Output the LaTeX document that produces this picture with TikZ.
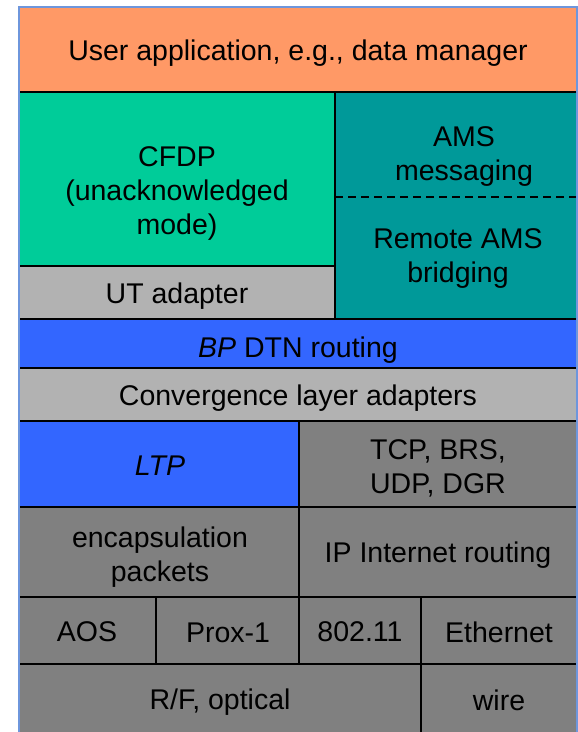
\documentclass[tikz,border=0pt]{standalone}
\usepackage{fontspec}
\setmainfont{Liberation Sans}
\definecolor{cOrange}{RGB}{255,153,102}
\definecolor{cGreen}{RGB}{0,204,153}
\definecolor{cTeal}{RGB}{0,153,153}
\definecolor{cLight}{RGB}{178,178,178}
\definecolor{cBlue}{RGB}{51,102,255}
\definecolor{cDark}{RGB}{128,128,128}
\definecolor{cFrame}{RGB}{110,150,220}
\begin{document}
\begin{tikzpicture}[x=1pt,y=-1pt,
  layer/.style={inner sep=0pt, outer sep=0pt, anchor=north west, draw=none},
  txt/.style={inner sep=0pt, align=center, text=black, font=\fontsize{28.5}{34}\selectfont},
  sep/.style={draw=black, line width=2.2pt},
  frame/.style={draw=cFrame, line width=1.3pt}]
\useasboundingbox (0,0) rectangle (578,732);
% layers
\node[layer, fill=cOrange, minimum width=558pt, minimum height=85pt] (app) at (19,7) {};
\node[layer, fill=cGreen, minimum width=316pt, minimum height=174pt] (cfdp) at (19,92) {};
\node[layer, fill=cLight, minimum width=316pt, minimum height=53pt] (ut) at (19,266) {};
\node[layer, fill=cTeal, minimum width=242pt, minimum height=227pt] (ams) at (335,92) {};
\node[layer, fill=cBlue, minimum width=558pt, minimum height=49pt] (bp) at (19,319) {};
\node[layer, fill=cLight, minimum width=558pt, minimum height=53pt] (cla) at (19,368) {};
\node[layer, fill=cBlue, minimum width=280pt, minimum height=86pt] (ltp) at (19,421) {};
\node[layer, fill=cDark, minimum width=278pt, minimum height=86pt] (tcp) at (299,421) {};
\node[layer, fill=cDark, minimum width=280pt, minimum height=90pt] (encap) at (19,507) {};
\node[layer, fill=cDark, minimum width=278pt, minimum height=90pt] (ip) at (299,507) {};
\node[layer, fill=cDark, minimum width=137pt, minimum height=67pt] (aos) at (19,597) {};
\node[layer, fill=cDark, minimum width=143pt, minimum height=67pt] (prox) at (156,597) {};
\node[layer, fill=cDark, minimum width=122pt, minimum height=67pt] (wlan) at (299,597) {};
\node[layer, fill=cDark, minimum width=156pt, minimum height=67pt] (eth) at (421,597) {};
\node[layer, fill=cDark, minimum width=402pt, minimum height=76pt] (rf) at (19,664) {};
\node[layer, fill=cDark, minimum width=156pt, minimum height=76pt] (wire) at (421,664) {};
% texts
\node[txt] (tapp) at (298,53) {User application, e.g., data manager};
\node[txt] (tcfdp) at (177,193) {CFDP\\(unacknowledged\\mode)};
\node[txt] (tams) at (464,157) {AMS\\messaging};
\node[txt] (tbridge) at (458,259) {Remote AMS\\bridging};
\node[txt] (tut) at (177,296) {UT adapter};
\node[txt] (tbp) at (298,350) {\textit{BP} DTN routing};
\node[txt] (tcla) at (298,398) {Convergence layer adapters};
\node[txt] (tltp) at (160,466) {\textit{LTP}};
\node[txt] (ttcp) at (438,468) {TCP, BRS,\\UDP, DGR};
\node[txt] (tencap) at (160,557) {encapsulation\\packets};
\node[txt] (tip) at (438,555) {IP Internet routing};
\node[txt] (taos) at (87,632) {AOS};
\node[txt] (tprox) at (228,633) {Prox-1};
\node[txt] (twlan) at (360,632) {802.11};
\node[txt] (teth) at (499,632) {Ethernet};
\node[txt] (trf) at (220,702) {R/F, optical};
\node[txt] (twire) at (499,700) {wire};
% separators
\coordinate (d1) at (335,197);
\coordinate (d2) at (577,197);
\draw[sep] (app.south west) -- (app.south east);
\draw[sep] (cfdp.north east) -- (ut.south east);
\draw[sep] (cfdp.south west) -- (cfdp.south east);
\draw[sep] (bp.north west) -- (bp.north east);
\draw[sep] (bp.south west) -- (bp.south east);
\draw[sep] (cla.south west) -- (cla.south east);
\draw[sep] (ltp.north east) -- (prox.south east);
\draw[sep] (ltp.south west) -- (tcp.south east);
\draw[sep] (encap.south west) -- (ip.south east);
\draw[sep] (aos.north east) -- (aos.south east);
\draw[sep] (eth.north west) -- (wire.south west);
\draw[sep] (aos.south west) -- (eth.south east);
\draw[draw=black, line width=2pt, dash pattern=on 8pt off 5pt] (d1) -- (d2);
% outer frame
\draw[frame] (rf.south west) -- (app.north west) -- (app.north east) -- (wire.south east);
\end{tikzpicture}
\end{document}
